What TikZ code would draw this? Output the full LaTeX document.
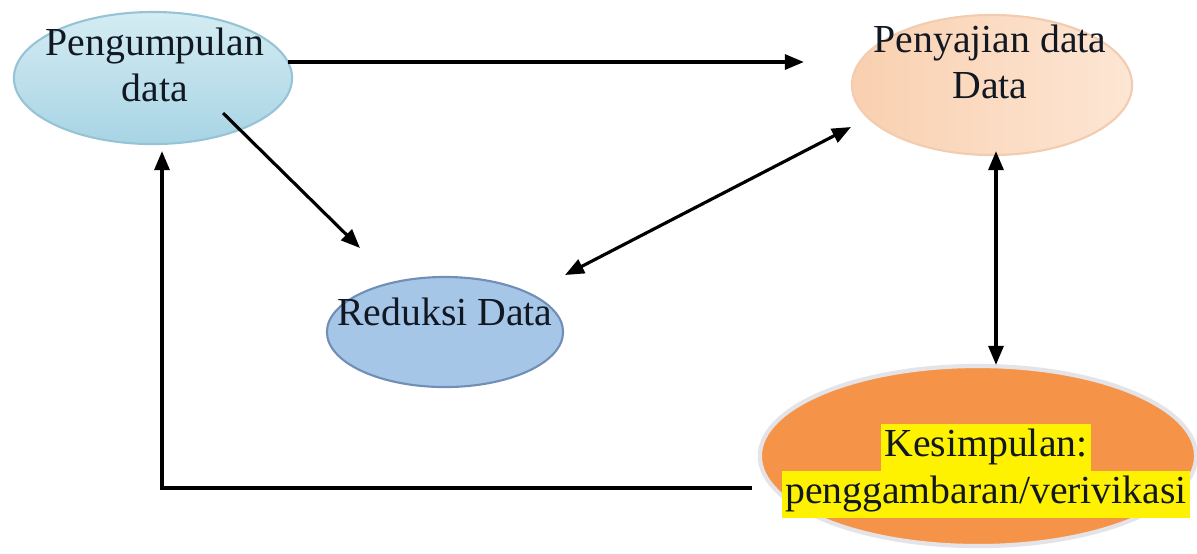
\documentclass[tikz,border=0pt]{standalone}
\usepackage{fontspec}
\setmainfont{Liberation Serif}
\usetikzlibrary{calc}
\usetikzlibrary{arrows.meta}
\usetikzlibrary{shapes.geometric}
\usepackage{xcolor}

\definecolor{biruAtas}{RGB}{212,236,243}
\definecolor{biruBawah}{RGB}{168,212,228}
\definecolor{biruTepi}{RGB}{150,196,214}
\definecolor{persikKiri}{RGB}{249,208,176}
\definecolor{persikKanan}{RGB}{253,230,212}
\definecolor{persikTepi}{RGB}{243,204,176}
\definecolor{biruReduksi}{RGB}{166,198,232}
\definecolor{biruReduksiTepi}{RGB}{112,142,182}
\definecolor{oranye}{RGB}{245,148,72}
\definecolor{pinggir}{RGB}{228,228,232}
\definecolor{teksGelap}{RGB}{18,24,34}
\newcommand{\stabilo}[1]{{\setlength{\fboxsep}{0pt}\colorbox{yellow}{\kern1pt\strut #1\kern1pt}}}

\begin{document}
\begin{tikzpicture}[x=0.01cm,y=0.01cm,
  elips/.style={ellipse,inner sep=0pt},
  teks/.style={align=center,inner sep=0pt,text=teksGelap,font=\fontsize{11.3}{13.3}\selectfont},
  ujung/.tip={Triangle[length=0.19cm,width=0.15cm]},
  panah/.style={line width=0.9pt,-ujung},
  panahdua/.style={line width=0.9pt,ujung-ujung}]
\useasboundingbox (0,0) rectangle (1197,-553);
% ellipses
\node[elips,minimum width=2.78cm,minimum height=1.32cm,top color=biruAtas,bottom color=biruBawah,draw=biruTepi,line width=0.6pt] (pengumpulan) at (153,-78) {};
\node[elips,minimum width=2.80cm,minimum height=1.40cm,left color=persikKiri,right color=persikKanan,draw=persikTepi,line width=0.6pt] (penyajian) at (992,-85) {};
\node[elips,minimum width=2.36cm,minimum height=1.10cm,fill=biruReduksi,draw=biruReduksiTepi,line width=0.6pt] (reduksi) at (445,-332) {};
\node[elips,minimum width=4.36cm,minimum height=1.80cm,fill=oranye,draw=pinggir,line width=1.2pt] (kesimpulan) at (978,-456) {};
% texts
\node[teks] (pengumpulan-t) at ($(pengumpulan)+(2,13)$) {Pengumpulan\\data};
\node[teks] (penyajian-t) at ($(penyajian)+(-2,23)$) {Penyajian data\\Data};
\node[teks] (reduksi-t) at ($(reduksi)+(0,20)$) {Reduksi Data};
\node[teks] (kesimpulan-t) at ($(kesimpulan)+(8,-15)$) {\stabilo{Kesimpulan:}\\\stabilo{penggambaran/verivikasi}};
% connectors
\coordinate (h1) at ($(pengumpulan.east)+(-5,16)$);
\coordinate (h2) at ($(penyajian.west |- h1)+(-47,0)$);
\draw[panah] (h1) -- (h2);
\draw[panah] ($(pengumpulan)+(70,-35)$) -- ($(reduksi)+(-85,84)$);
\draw[panahdua] ($(reduksi)+(120,57)$) -- ($(penyajian)+(-141,-42)$);
\coordinate (v1) at ($(penyajian.south)+(4,5)$);
\coordinate (v2) at ($(kesimpulan.north -| v1)+(0,-1)$);
\draw[panahdua] (v1) -- (v2);
\draw[panah] ($(kesimpulan.west)+(-6,-32)$) -| ($(pengumpulan.south)+(9,-6)$);
\end{tikzpicture}
\end{document}
